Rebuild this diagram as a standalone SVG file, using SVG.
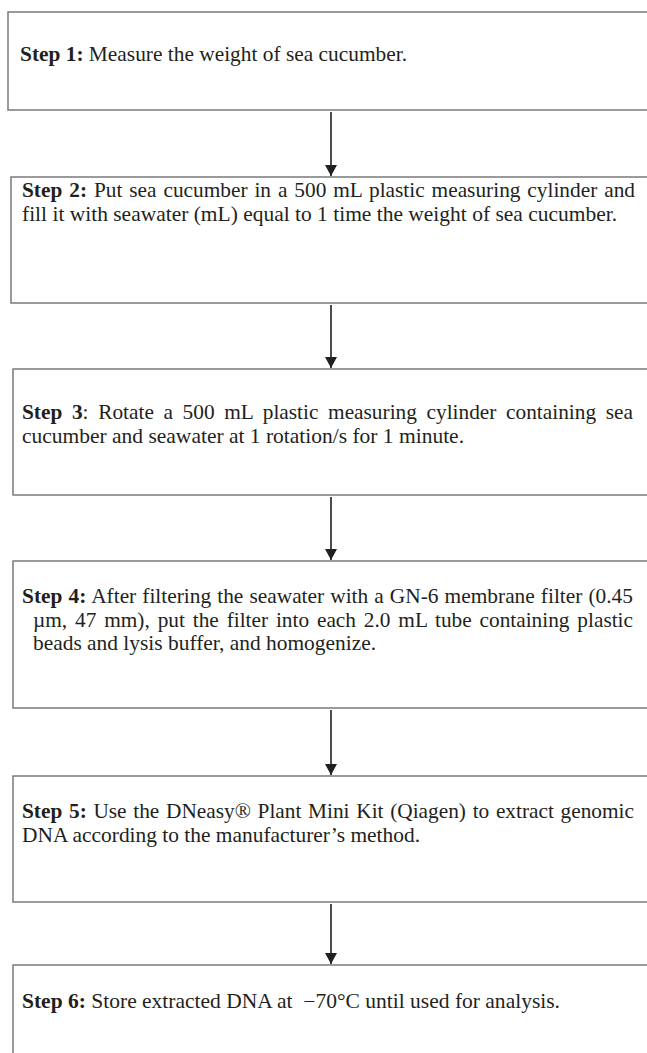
<svg xmlns="http://www.w3.org/2000/svg" width="647" height="1053" viewBox="0 0 647 1053">
<style>
.box{fill:#fff;stroke:#7a7a7a;stroke-width:1.5}
.t{font-family:"Liberation Serif","Times New Roman",serif;font-size:20.3px;fill:#231f20}
.b{font-weight:bold}
.arr{stroke:#231f20;stroke-width:1.6;fill:none}
</style>
<defs>
<marker id="ah" viewBox="0 0 11 12" refX="11" refY="6" markerWidth="11" markerHeight="12" markerUnits="userSpaceOnUse" orient="auto">
<path d="M0,0 L11,6 L0,12 Z" fill="#231f20"/>
</marker>
</defs>
<rect width="647" height="1053" fill="#fff"/>
<g id="step1">
<rect class="box" x="8" y="12" width="700" height="98"/>
<text class="t" x="20" y="61" textLength="387" lengthAdjust="spacingAndGlyphs"><tspan class="b">Step 1:</tspan> Measure the weight of sea cucumber.</text>
</g>
<g id="step2">
<rect class="box" x="11" y="177" width="700" height="126"/>
<text class="t" x="22" y="197" word-spacing="1.5" textLength="613" lengthAdjust="spacingAndGlyphs"><tspan class="b">Step 2:</tspan> Put sea cucumber in a 500 mL plastic measuring cylinder and</text>
<text class="t" x="22" y="220.5" textLength="595" lengthAdjust="spacingAndGlyphs">fill it with seawater (mL) equal to 1 time the weight of sea cucumber.</text>
</g>
<g id="step3">
<rect class="box" x="13" y="369" width="700" height="126"/>
<text class="t" x="22" y="419" word-spacing="4.1" textLength="611" lengthAdjust="spacingAndGlyphs"><tspan class="b">Step 3</tspan>: Rotate a 500 mL plastic measuring cylinder containing sea</text>
<text class="t" x="22" y="442.5" textLength="442" lengthAdjust="spacingAndGlyphs">cucumber and seawater at 1 rotation/s for 1 minute.</text>
</g>
<g id="step4">
<rect class="box" x="13" y="561" width="700" height="147"/>
<text class="t" x="22" y="603" word-spacing="0.7" textLength="611" lengthAdjust="spacingAndGlyphs"><tspan class="b">Step 4:</tspan> After filtering the seawater with a GN-6 membrane filter (0.45</text>
<text class="t" x="33" y="626.5" word-spacing="2.4" textLength="600" lengthAdjust="spacingAndGlyphs">µm, 47 mm), put the filter into each 2.0 mL tube containing plastic</text>
<text class="t" x="33" y="650" textLength="343" lengthAdjust="spacingAndGlyphs">beads and lysis buffer, and homogenize.</text>
</g>
<g id="step5">
<rect class="box" x="13" y="776" width="700" height="126"/>
<text class="t" x="22" y="818" word-spacing="1.3" textLength="612" lengthAdjust="spacingAndGlyphs"><tspan class="b">Step 5:</tspan> Use the DNeasy® Plant Mini Kit (Qiagen) to extract genomic</text>
<text class="t" x="22" y="841.5" textLength="398" lengthAdjust="spacingAndGlyphs">DNA according to the manufacturer’s method.</text>
</g>
<g id="step6">
<rect class="box" x="13" y="965" width="700" height="120"/>
<text class="t" x="22" y="1008" textLength="538" lengthAdjust="spacingAndGlyphs"><tspan class="b">Step 6:</tspan> Store extracted DNA at&#160; −70°C until used for analysis.</text>
</g>
<g id="connectors">
<line class="arr" x1="331" y1="112" x2="331" y2="176" marker-end="url(#ah)"/>
<line class="arr" x1="331" y1="305" x2="331" y2="368" marker-end="url(#ah)"/>
<line class="arr" x1="331" y1="497" x2="331" y2="560" marker-end="url(#ah)"/>
<line class="arr" x1="331" y1="710" x2="331" y2="775" marker-end="url(#ah)"/>
<line class="arr" x1="331" y1="904" x2="331" y2="964" marker-end="url(#ah)"/>
</g>
</svg>
